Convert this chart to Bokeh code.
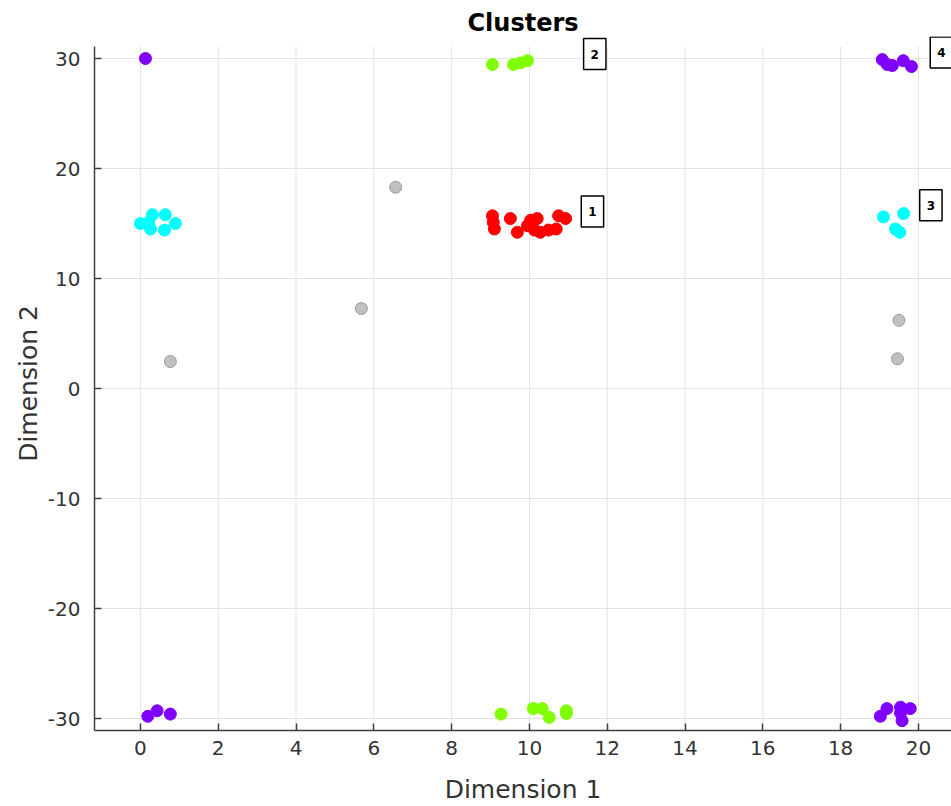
from bokeh.plotting import figure
from bokeh.models import Label, FixedTicker, Range1d
from bokeh.embed import file_html
from bokeh.resources import INLINE

# ---- data ----
c1_x = [9.05, 9.07, 9.10, 9.51, 9.69, 10.03, 10.20, 10.13, 10.28, 10.49, 10.69, 10.75, 10.93, 9.95]
c1_y = [15.7, 15.1, 14.5, 15.45, 14.2, 15.3, 15.45, 14.4, 14.2, 14.4, 14.5, 15.7, 15.45, 14.8]

c2_x = [9.05, 9.59, 9.77, 9.95, 9.27, 10.10, 10.33, 10.51, 10.95, 10.95]
c2_y = [29.45, 29.45, 29.6, 29.8, -29.6, -29.1, -29.1, -29.9, -29.3, -29.55]

c3_x = [0.0, 0.21, 0.31, 0.64, 0.90, 0.62, 0.26, 19.10, 19.62, 19.41, 19.52]
c3_y = [15.0, 15.1, 15.8, 15.8, 15.0, 14.4, 14.5, 15.6, 15.9, 14.5, 14.2]

c4_x = [0.13, 0.19, 0.43, 0.77, 19.07, 19.20, 19.33, 19.61, 19.82,
        19.02, 19.19, 19.54, 19.58, 19.79, 19.54]
c4_y = [30.0, -29.8, -29.3, -29.6, 29.9, 29.45, 29.36, 29.8, 29.27,
        -29.8, -29.1, -28.97, -30.2, -29.1, -29.5]

noise_x = [0.77, 5.68, 6.56, 19.50, 19.46]
noise_y = [2.45, 7.27, 18.3, 6.2, 2.7]

cluster_names = ["1", "2", "3", "4"]
cluster_label_x = [11.62, 11.68, 20.32, 20.59]
cluster_label_y = [16.1, 30.4, 16.65, 30.55]

x_ticks = [0, 2, 4, 6, 8, 10, 12, 14, 16, 18, 20]
y_ticks = [-30, -20, -10, 0, 10, 20, 30]

X_LO, X_HI = -1.18, 20.85
Y_LO, Y_HI = -31.09, 31.09

FONT = "DejaVu Sans"
TXT = "#333333"

p = figure(width=951, height=806, output_backend="svg", toolbar_location=None,
           x_range=Range1d(X_LO, X_HI), y_range=Range1d(Y_LO, Y_HI + 0.91),
           min_border_left=94, min_border_right=0, min_border_top=36, min_border_bottom=76)

p.title.text = "Clusters"
p.title.align = "center"
p.title.text_font = FONT
p.title.text_font_size = "24px"
p.title.text_font_style = "bold"
p.title.text_color = "black"
p.title.standoff = 0

p.outline_line_color = None
p.background_fill_color = "white"
p.border_fill_color = "white"

for ax in (p.xaxis[0], p.yaxis[0]):
    ax.axis_line_color = "#404040"
    ax.axis_line_width = 1.5
    ax.major_tick_line_color = "#404040"
    ax.major_tick_line_width = 1.5
    ax.major_tick_in = 7
    ax.major_tick_out = 0
    ax.minor_tick_line_color = None
    ax.major_label_text_font = FONT
    ax.major_label_text_font_size = "20px"
    ax.major_label_text_color = TXT
    ax.axis_label_text_font = FONT
    ax.axis_label_text_font_size = "25px"
    ax.axis_label_text_font_style = "normal"
    ax.axis_label_text_color = TXT

p.xaxis[0].ticker = FixedTicker(ticks=x_ticks)
p.yaxis[0].ticker = FixedTicker(ticks=y_ticks)
p.yaxis[0].major_label_overrides = {t: str(t) for t in y_ticks}
p.yaxis[0].bounds = (Y_LO, Y_HI)
p.xaxis[0].axis_label = "Dimension 1"
p.yaxis[0].axis_label = "Dimension 2"
p.xaxis[0].major_label_standoff = 10
p.yaxis[0].major_label_standoff = 14
p.xaxis[0].axis_label_standoff = 17
p.yaxis[0].axis_label_standoff = 2

# horizontal grid lines from the built-in grid, vertical ones bounded to the axis extent
p.xgrid.visible = False
p.ygrid[0].ticker = FixedTicker(ticks=y_ticks)
p.ygrid.grid_line_color = "#e3e3e3"
p.ygrid.grid_line_width = 1
p.segment(x0=x_ticks, x1=x_ticks, y0=[Y_LO] * len(x_ticks), y1=[Y_HI] * len(x_ticks),
          line_color="#e3e3e3", line_width=1, level="underlay")

SIZE = 12
p.scatter(noise_x, noise_y, size=SIZE, fill_color="#c0c0c0", line_color="#9a9a9a", line_width=1)
p.scatter(c1_x, c1_y, size=SIZE, fill_color="#ff0000", line_color="#ff0000")
p.scatter(c2_x, c2_y, size=SIZE, fill_color="#80ff00", line_color="#80ff00")
p.scatter(c3_x, c3_y, size=SIZE, fill_color="#00ffff", line_color="#00ffff")
p.scatter(c4_x, c4_y, size=SIZE, fill_color="#8000ff", line_color="#8000ff")

for name, lx, ly in zip(cluster_names, cluster_label_x, cluster_label_y):
    p.add_layout(Label(x=lx, y=ly, text=name, text_align="center", text_baseline="middle",
                       text_font=FONT, text_font_size="12px", text_font_style="bold",
                       text_color="black", background_fill_color="white",
                       border_line_color="black", border_line_width=1.5,
                       padding=dict(left=7, right=7, top=11, bottom=11)))

open("out.html", "w").write(file_html(p, INLINE))
